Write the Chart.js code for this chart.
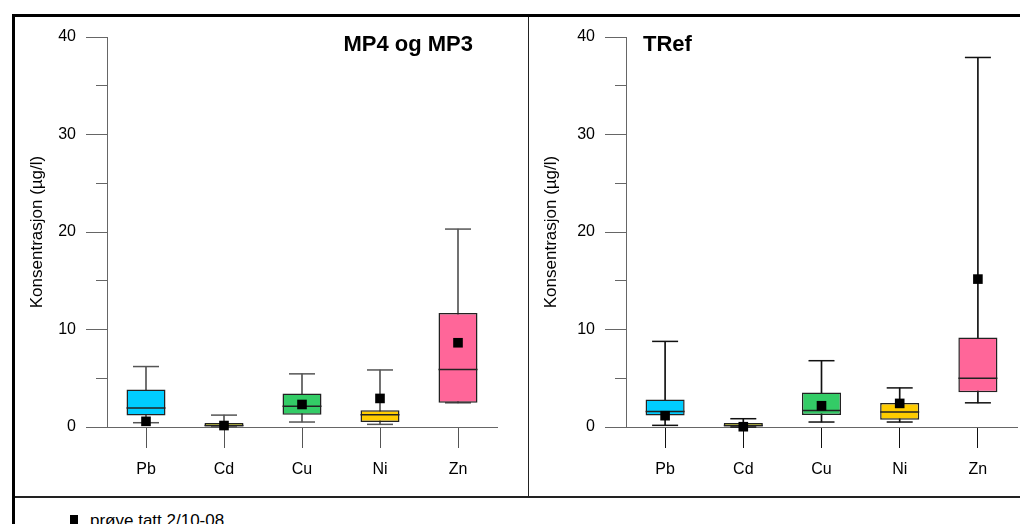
<!DOCTYPE html>
<html>
<head>
<meta charset="utf-8">
<script src="https://cdn.jsdelivr.net/npm/chart.js@4.4.1/dist/chart.umd.min.js"></script>
<style>
    html, body { margin: 0; padding: 0; background: #fff; }
    body { width: 1020px; height: 524px; position: relative; overflow: hidden; font-family: 'Liberation Sans', Arial, sans-serif; }
    .frame { position: absolute; left: 12px; top: 14px; width: 1020px; height: 520px; border-left: 3px solid #000; border-top: 3px solid #000; }
    .hline { position: absolute; left: 15px; top: 496px; width: 1005px; height: 2px; background: #222; }
    .vline { position: absolute; left: 528px; top: 17px; width: 1px; height: 480px; background: #222; }
    canvas { position: absolute; top: 17px; }
    #chart-left { left: 15px; }
    #chart-right { left: 529px; }
    .panel-title { position: absolute; top: 31px; font-weight: bold; font-size: 22px; color: #000; line-height: 26px; white-space: nowrap; }
    .legend-mark { position: absolute; left: 70px; top: 515px; width: 8px; height: 12px; background: #000; }
    .legend-text { position: absolute; left: 90px; top: 511px; font-size: 17px; line-height: 20px; color: #000; white-space: nowrap; }
</style>
</head>
<body>
<div class="frame"></div>
<div class="vline"></div>
<div class="hline"></div>
<canvas id="chart-left" width="512" height="480"></canvas>
<canvas id="chart-right" width="491" height="480"></canvas>
<div class="panel-title" style="right: 547px;">MP4 og MP3</div>
<div class="panel-title" style="left: 643px;">TRef</div>
<div class="legend-mark"></div>
<div class="legend-text">prøve tatt 2/10-08</div>

<script>
// Categories and box colours
const metals = ['Pb', 'Cd', 'Cu', 'Ni', 'Zn'];
const boxColors = ['#00CCFF', '#FFFF00', '#33CC66', '#FFCC00', '#FF6699'];
const yTicks = [0, 10, 20, 30, 40];

// MP4 og MP3 (µg/l)
const mpMin    = [0.44, 0.00, 0.51, 0.27, 2.48];
const mpQ1     = [1.19, 0.05, 1.26, 0.51, 2.48];
const mpMedian = [1.94, 0.15, 2.14, 1.26, 5.90];
const mpQ3     = [3.85, 0.40, 3.44, 1.73, 11.70];
const mpMax    = [6.20, 1.22, 5.45, 5.85, 20.30];
const mpSample = [0.58, 0.15, 2.31, 2.93, 8.64];

// TRef (µg/l)
const trMin    = [0.17, 0.00, 0.51, 0.51, 2.48];
const trQ1     = [1.19, 0.05, 1.22, 0.75, 3.57];
const trMedian = [1.60, 0.15, 1.70, 1.53, 5.00];
const trQ3     = [2.82, 0.40, 3.54, 2.45, 9.18];
const trMax    = [8.78, 0.85, 6.80, 4.01, 37.90];
const trSample = [1.16, 0.03, 2.18, 2.42, 15.17];

(function () {
    'use strict';

    const FONT = "'Liberation Sans', Arial, sans-serif";
    const AXIS_COLOR = '#666';

    // Build one box plot panel
    function buildPanel(canvasId, stats, opts) {
        const canvas = document.getElementById(canvasId);
        const range = (lo, hi) => lo.map((v, i) => [v, hi[i]]);

        return new Chart(canvas, {
            type: 'bar',
            data: {
                labels: metals,
                datasets: [
                    {
                        // whisker stem
                        data: range(stats.min, stats.max),
                        backgroundColor: opts.whisker,
                        barThickness: 1,
                        grouped: false,
                        order: 4
                    },
                    {
                        type: 'line',
                        data: stats.max,
                        showLine: false,
                        pointStyle: 'line',
                        pointRadius: 13,
                        pointBorderColor: opts.whisker,
                        pointBorderWidth: 1.5,
                        clip: false,
                        order: 3
                    },
                    {
                        type: 'line',
                        data: stats.min,
                        showLine: false,
                        pointStyle: 'line',
                        pointRadius: 13,
                        pointBorderColor: opts.whisker,
                        pointBorderWidth: 1.5,
                        clip: false,
                        order: 3
                    },
                    {
                        // box q1..q3
                        data: range(stats.q1, stats.q3),
                        backgroundColor: boxColors,
                        borderColor: '#222',
                        borderWidth: 1.5,
                        borderSkipped: false,
                        barPercentage: 0.5,
                        categoryPercentage: 1,
                        grouped: false,
                        order: 2
                    },
                    {
                        type: 'line',
                        data: stats.median,
                        showLine: false,
                        pointStyle: 'line',
                        pointRadius: 19.5,
                        pointBorderColor: '#222',
                        pointBorderWidth: 1.5,
                        clip: false,
                        order: 1
                    },
                    {
                        // sample taken 2/10-08
                        type: 'line',
                        data: stats.sample,
                        showLine: false,
                        pointStyle: 'rect',
                        pointRadius: 6.8,
                        pointBackgroundColor: '#000',
                        pointBorderColor: '#000',
                        pointBorderWidth: 0,
                        clip: false,
                        order: 0
                    }
                ]
            },
            options: {
                responsive: false,
                animation: false,
                events: [],
                layout: {
                    autoPadding: false,
                    padding: { top: 20, right: opts.padRight, left: 0, bottom: 0 }
                },
                plugins: {
                    legend: { display: false },
                    tooltip: { enabled: false }
                },
                scales: {
                    x: {
                        afterFit: scale => {
                            scale.height = 70;
                            scale.paddingLeft = 0;
                            scale.paddingRight = 0;
                        },
                        border: { display: true, color: AXIS_COLOR, width: 1 },
                        grid: {
                            offset: false,
                            drawOnChartArea: false,
                            tickLength: 21,
                            tickColor: opts.whisker,
                            tickWidth: 1
                        },
                        ticks: {
                            color: '#000',
                            padding: 12,
                            font: { family: FONT, size: 16 }
                        }
                    },
                    y: {
                        min: yTicks[0],
                        max: yTicks[yTicks.length - 1],
                        afterFit: scale => { scale.width = opts.axisLeft; },
                        border: { display: true, color: AXIS_COLOR, width: 1 },
                        grid: {
                            drawOnChartArea: false,
                            tickLength: 21,
                            tickColor: AXIS_COLOR,
                            tickWidth: 1,
                            // minor ticks are half length, next to the axis
                            tickBorderDash: ctx => yTicks.includes(ctx.tick.value) ? [] : [0, 10, 11, 40]
                        },
                        ticks: {
                            stepSize: 5,
                            color: '#000',
                            padding: 10,
                            font: { family: FONT, size: 16 },
                            callback: v => yTicks.includes(v) ? v : ''
                        },
                        title: {
                            display: true,
                            text: 'Konsentrasjon (µg/l)',
                            color: '#000',
                            padding: { top: 12, bottom: 0 },
                            font: { family: FONT, size: 17 }
                        }
                    }
                }
            }
        });
    }

    buildPanel('chart-left', {
        min: mpMin, q1: mpQ1, median: mpMedian, q3: mpQ3, max: mpMax, sample: mpSample
    }, { axisLeft: 92, padRight: 30, whisker: '#555' });

    buildPanel('chart-right', {
        min: trMin, q1: trQ1, median: trMedian, q3: trQ3, max: trMax, sample: trSample
    }, { axisLeft: 97, padRight: 3, whisker: '#111' });

})();
</script>
</body>
</html>
